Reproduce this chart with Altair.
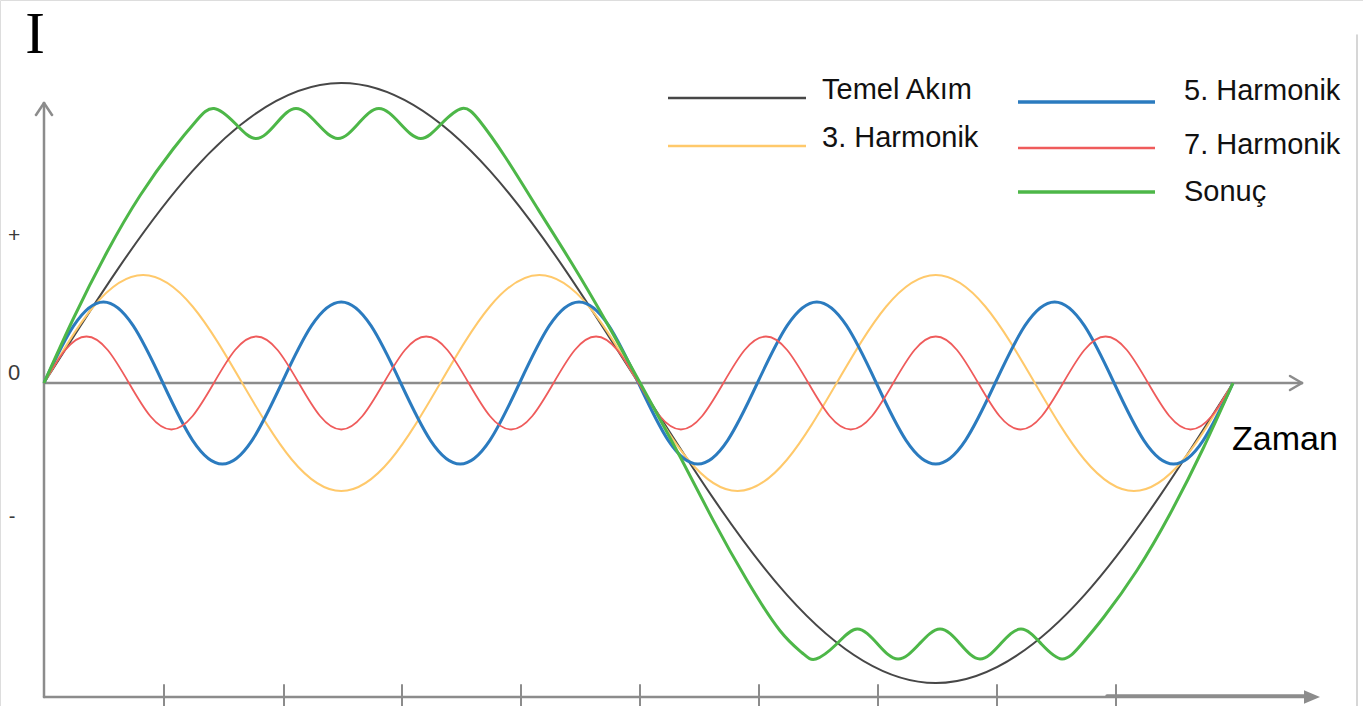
import altair as alt
import pandas as pd

# ---------------- data (x in degrees of the fundamental, value: fundamental amplitude = 100)
series_names = ["Temel Akım", "3. Harmonik", "5. Harmonik", "7. Harmonik", "Sonuç"]
series_colors = ["#474747", "#FFC96B", "#2B7BBF", "#EF5B5B", "#4DB748"]

# samples every 1/8 period
temel = [0, 70.7, 100, 70.7, 0, -70.7, -100, -70.7, 0]
harm3 = [0, 25.5, 36, 25.5, 0, -25.5, -36, -25.5,
         0, 25.5, 36, 25.5, 0, -25.5, -36, -25.5,
         0, 25.5, 36, 25.5, 0, -25.5, -36, -25.5, 0]
harm5 = [0, 19.1, 27, 19.1, 0, -19.1, -27, -19.1,
         0, 19.1, 27, 19.1, 0, -19.1, -27, -19.1,
         0, 19.1, 27, 19.1, 0, -19.1, -27, -19.1,
         0, 19.1, 27, 19.1, 0, -19.1, -27, -19.1,
         0, 19.1, 27, 19.1, 0, -19.1, -27, -19.1, 0]
harm7 = [0, 11, 15.5, 11, 0, -11, -15.5, -11,
         0, 11, 15.5, 11, 0, -11, -15.5, -11,
         0, 11, 15.5, 11, 0, -11, -15.5, -11,
         0, 11, 15.5, 11, 0, -11, -15.5, -11,
         0, 11, 15.5, 11, 0, -11, -15.5, -11,
         0, 11, 15.5, 11, 0, -11, -15.5, -11,
         0, 11, 15.5, 11, 0, -11, -15.5, -11, 0]

sonuc_deg = [0, 8.9, 19, 29.1, 39.1, 46.2, 51.5, 57.9, 64.2, 70.3, 76.3, 82.7, 89,
             95.2, 101.4, 107.8, 114.1, 120.4, 126.6, 131.8, 139.6, 149.7, 159.8,
             169.9, 180.5, 192.6, 202.6, 212.8, 222.8, 229.6, 233.7, 240, 246.2,
             252.4, 258.6, 265, 271.3, 277.4, 283.4, 289.6, 295.8, 302, 308.2,
             313.8, 320.9, 330.9, 341, 351.1, 360]
sonuc_val = [0, 21.5, 43.5, 62.5, 78, 87.5, 91.5, 86.5, 81.5, 86.5, 91.5, 86.5, 81.5,
             86.5, 91.5, 86.5, 81.5, 86.5, 91.5, 87.5, 75.4, 57.7, 39.9,
             21, 0, -24.6, -45.7, -65.7, -82.5, -90, -92, -87, -82,
             -87, -92, -87, -82, -87, -92, -87, -82, -87, -92,
             -87.5, -78, -62.5, -43.5, -21.5, 0]

tick_px = [164, 284, 402, 521, 640, 759, 878, 997, 1116]
y_labels = ["+", "0", "-"]

# ---------------- geometry helpers (pixel -> data units)
K = 1189 / 360.0
W, H = 1363, 706


def X(px):
    return (px - 44) / K


def Y(py):
    return (383 - py) / 3.0


xs = alt.Scale(domain=[X(0), X(W)], nice=False, zero=False)
ys = alt.Scale(domain=[Y(H), Y(0)], nice=False, zero=False)
cscale = alt.Scale(domain=series_names, range=series_colors)


def sampled(vals, name):
    n = len(vals) - 1
    return pd.DataFrame({"x": [360.0 * i / n for i in range(n + 1)], "v": vals, "series": name})


frames = {
    "Temel Akım": sampled(temel, "Temel Akım"),
    "3. Harmonik": sampled(harm3, "3. Harmonik"),
    "5. Harmonik": sampled(harm5, "5. Harmonik"),
    "7. Harmonik": sampled(harm7, "7. Harmonik"),
    "Sonuç": pd.DataFrame({"x": sonuc_deg, "v": sonuc_val, "series": "Sonuç"}),
}
widths = {"Temel Akım": 2, "3. Harmonik": 2, "5. Harmonik": 3, "7. Harmonik": 1.8, "Sonuç": 3}


def seg_df(segs):
    return pd.DataFrame([{"x": X(a), "x2": X(c), "y": Y(b), "y2": Y(d)} for a, b, c, d in segs])


def rules(segs, color, width):
    return alt.Chart(seg_df(segs)).mark_rule(color=color, strokeWidth=width, strokeCap="round").encode(
        x=alt.X("x:Q", scale=xs, axis=None), x2="x2:Q",
        y=alt.Y("y:Q", scale=ys, axis=None), y2="y2:Q")


axis_gray = "#8c8c8c"
axes = rules([
    (44, 103, 44, 697),          # vertical axis
    (36, 115, 44, 103), (44, 103, 52, 115),   # top arrow
    (44, 383, 1302, 383),        # zero axis
    (1290, 376, 1302, 383), (1302, 383, 1290, 390),  # zero-axis arrow
    (44, 697, 1306, 697),        # bottom axis
], axis_gray, 2.5)
thick = rules([(1107, 696, 1306, 696)], axis_gray, 3.5)
ticks = rules([(p, 685, p, 706) for p in tick_px], axis_gray, 2)
border = rules([(1357, 35, 1357, 706)], "#c8c8c8", 1.5)

arrow_head = alt.Chart(pd.DataFrame({"x": [X(1312)], "y": [Y(697)]})).mark_point(
    shape="M-1,-0.85L1,0L-1,0.85Z", size=256, filled=True, color=axis_gray, opacity=1
).encode(x=alt.X("x:Q", scale=xs, axis=None), y=alt.Y("y:Q", scale=ys, axis=None))

lines = []
for name in series_names:
    lines.append(
        alt.Chart(frames[name]).mark_line(strokeWidth=widths[name], interpolate="natural").encode(
            x=alt.X("x:Q", scale=xs, axis=None),
            y=alt.Y("v:Q", scale=ys, axis=None),
            color=alt.Color("series:N", scale=cscale, legend=None),
        )
    )

# legend (custom two-column layout)
leg_rows = [
    ("Temel Akım", 668, 806, 98, 822, 90),
    ("3. Harmonik", 668, 806, 146, 822, 138),
    ("5. Harmonik", 1018, 1155, 102, 1184, 91),
    ("7. Harmonik", 1018, 1155, 148, 1184, 145),
    ("Sonuç", 1018, 1155, 192, 1184, 192),
]
leg_layers = []
for name, x1, x2, ly, tx, ty in leg_rows:
    d = pd.DataFrame({"series": [name], "x": [X(x1)], "x2": [X(x2)], "y": [Y(ly)],
                      "tx": [X(tx)], "ty": [Y(ty)]})
    leg_layers.append(
        alt.Chart(d).mark_rule(strokeWidth=widths[name] + 0.5).encode(
            x=alt.X("x:Q", scale=xs, axis=None), x2="x2:Q",
            y=alt.Y("y:Q", scale=ys, axis=None),
            color=alt.Color("series:N", scale=cscale, legend=None))
    )
    leg_layers.append(
        alt.Chart(d).mark_text(align="left", baseline="middle", font="Liberation Sans",
                               fontSize=29, color="#111111").encode(
            x=alt.X("tx:Q", scale=xs, axis=None), y=alt.Y("ty:Q", scale=ys, axis=None),
            text="series:N")
    )


def label(t, px, py, fs, font="Liberation Sans", color="#3a3a3a", align="center", baseline="middle"):
    return alt.Chart(pd.DataFrame({"t": [t], "x": [X(px)], "y": [Y(py)]})).mark_text(
        align=align, baseline=baseline, font=font, fontSize=fs, color=color
    ).encode(x=alt.X("x:Q", scale=xs, axis=None), y=alt.Y("y:Q", scale=ys, axis=None), text="t:N")


ylabs = [
    label(y_labels[0], 14, 236, 21),
    label(y_labels[1], 14, 373, 22),
    label(y_labels[2], 12, 517, 20),
]

title_i = label("I", 35, 53, 59, font="Liberation Serif", color="#000000", baseline="alphabetic")
zaman = label("Zaman", 1285, 440, 34, color="#000000")

chart = alt.layer(
    border, axes, thick, ticks, arrow_head, *lines, *leg_layers, *ylabs, title_i, zaman
).properties(
    width=W, height=H, padding=0, autosize=alt.AutoSizeParams(type="none")
).configure_view(stroke=None).configure(background="white")

chart.save("out.html", embed_options={"renderer": "svg", "actions": False})
